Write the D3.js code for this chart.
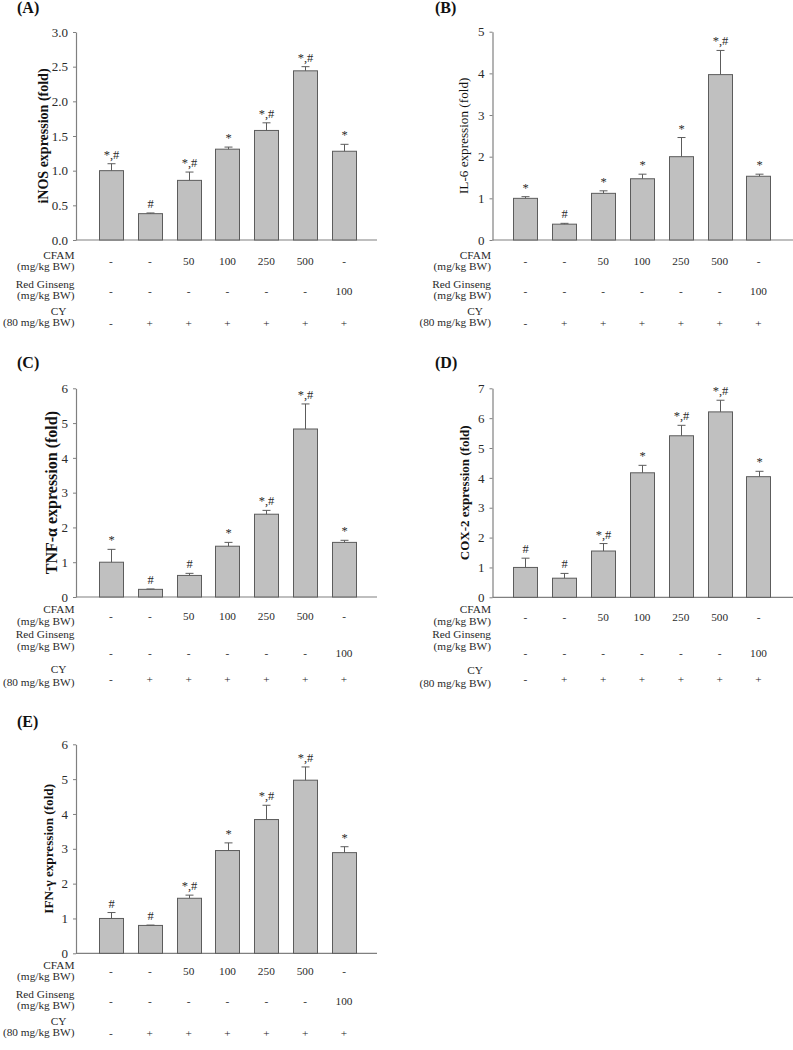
<!DOCTYPE html>
<html><head><meta charset="utf-8">
<script src="https://cdn.jsdelivr.net/npm/d3@7"></script>
<style>body{margin:0;background:#fff} svg{display:block}</style>
</head><body>
<svg id="c" width="793" height="1050"></svg>
<script>
// ---------- data ----------
const groups = ["g1","g2","g3","g4","g5","g6","g7"];
const cfamDose = ["-","-","50","100","250","500","-"];
const ginsengDose = ["-","-","-","-","-","-","100"];
const cyDose = ["-","+","+","+","+","+","+"];

const inosMean = [1.00, 0.38, 0.86, 1.31, 1.58, 2.44, 1.28];
const inosSD   = [0.10, 0.01, 0.12, 0.03, 0.11, 0.06, 0.10];
const inosSig  = ["*,#","#","*,#","*","*,#","*,#","*"];

const il6Mean = [1.00, 0.38, 1.12, 1.47, 2.00, 3.97, 1.53];
const il6SD   = [0.04, 0.02, 0.06, 0.11, 0.46, 0.58, 0.05];
const il6Sig  = ["*","#","*","*","*","*,#","*"];

const tnfMean = [1.00, 0.22, 0.62, 1.46, 2.38, 4.83, 1.57];
const tnfSD   = [0.37, 0.01, 0.06, 0.11, 0.11, 0.72, 0.06];
const tnfSig  = ["*","#","#","*","*,#","*,#","*"];

const coxMean = [1.00, 0.64, 1.55, 4.17, 5.41, 6.21, 4.04];
const coxSD   = [0.31, 0.16, 0.25, 0.25, 0.35, 0.39, 0.18];
const coxSig  = ["#","#","*,#","*","*,#","*,#","*"];

const ifnMean = [1.00, 0.80, 1.58, 2.95, 3.84, 4.97, 2.89];
const ifnSD   = [0.17, 0.01, 0.09, 0.22, 0.41, 0.38, 0.17];
const ifnSig  = ["#","#","*,#","*","*,#","*,#","*"];

const rowLabels = [["CFAM","(mg/kg BW)"],["Red Ginseng","(mg/kg BW)"],["CY","(80 mg/kg BW)"]];
const rowValues = [cfamDose, ginsengDose, cyDose];

// ---------- layout ----------
const FONT = "'Liberation Serif','Times New Roman',serif";
const TFS = 11.3;
const offAB = [[15,26,20.7],[44,55,51],[71,82,82.7]];
const offCD = [[12,24,19.4],[37,49,56],[72.5,85.5,82]];
const offE  = [[11.7,22.7,17.4],[40.7,51.7,47.7],[67.7,78.7,79.7]];

const panels = [
  {letter:"(A)", lx:17, ly:13, title:"iNOS expression (fold)", bold:true, tsize:14, tx:43,
   mean:inosMean, sd:inosSD, sig:inosSig, yMax:3, step:0.5, fmt:".1f",
   x0:76, yTop:32, yBot:240, shift:0, offs:offAB},
  {letter:"(B)", lx:435, ly:13, title:"IL-6 expression (fold)", bold:false, tsize:13.2, tx:463,
   mean:il6Mean, sd:il6SD, sig:il6Sig, yMax:5, step:1, fmt:"d",
   x0:492.5, yTop:31.7, yBot:240, shift:-2, offs:offAB},
  {letter:"(C)", lx:17, ly:368, title:"TNF-α expression (fold)", bold:true, tsize:16, tx:51,
   mean:tnfMean, sd:tnfSD, sig:tnfSig, yMax:6, step:1, fmt:"d",
   x0:76, yTop:388.3, yBot:597, shift:0, offs:offCD},
  {letter:"(D)", lx:435, ly:368, title:"COX-2 expression (fold)", bold:true, tsize:13, tx:464,
   mean:coxMean, sd:coxSD, sig:coxSig, yMax:7, step:1, fmt:"d",
   x0:492.5, yTop:388.3, yBot:597.3, shift:-2, offs:offCD},
  {letter:"(E)", lx:17, ly:727, title:"IFN-γ expression (fold)", bold:true, tsize:13.2, tx:48,
   mean:ifnMean, sd:ifnSD, sig:ifnSig, yMax:6, step:1, fmt:"d",
   x0:76, yTop:744.3, yBot:953.3, shift:0, offs:offE}
];

const svg = d3.select("#c");
const AX = "#808080", BAR = "#c0c0c0", EDGE = "#5c5c5c", TXT = "#2a2a2a";

panels.forEach(p => {
  const g = svg.append("g");
  g.append("text").attr("x", p.lx).attr("y", p.ly)
    .attr("font-family", FONT).attr("font-weight", "bold").attr("font-size", 16)
    .attr("fill", "#111").text(p.letter);

  const y = d3.scaleLinear().domain([0, p.yMax]).range([p.yBot, p.yTop]);
  const x = d3.scaleBand().domain(groups)
    .range([p.x0 + p.shift, p.x0 + p.shift + 303]).paddingInner(0.38).paddingOuter(0.59);

  g.append("line").attr("x1", p.x0).attr("x2", p.x0 + 301)
    .attr("y1", p.yBot).attr("y2", p.yBot).attr("stroke", AX).attr("stroke-width", 1.2);

  const ya = d3.axisLeft(y)
    .tickValues(d3.range(0, p.yMax + 1e-9, p.step))
    .tickSize(3).tickSizeOuter(0).tickPadding(5)
    .tickFormat(d3.format(p.fmt));
  const yg = g.append("g").attr("transform", `translate(${p.x0},0)`).call(ya);
  yg.select(".domain").attr("stroke", AX).attr("stroke-width", 1.2);
  yg.selectAll(".tick line").attr("stroke", AX);
  yg.selectAll(".tick text").attr("font-family", FONT).attr("font-size", 13).attr("fill", TXT);

  g.append("text")
    .attr("transform", `translate(${p.tx},${(p.yTop + p.yBot) / 2}) rotate(-90)`)
    .attr("text-anchor", "middle").attr("dy", "0.35em")
    .attr("font-family", FONT).attr("font-size", p.tsize)
    .attr("font-weight", p.bold ? "bold" : "normal").attr("fill", "#111")
    .text(p.title);

  const data = groups.map((k, i) => ({k, m: p.mean[i], s: p.sd[i], sig: p.sig[i]}));

  g.selectAll("rect.bar").data(data).enter().append("rect")
    .attr("x", d => Math.round(x(d.k)) + 0.5)
    .attr("width", Math.round(x.bandwidth()))
    .attr("y", d => y(d.m))
    .attr("height", d => p.yBot - y(d.m))
    .attr("fill", BAR).attr("stroke", EDGE).attr("stroke-width", 1);

  const cx = d => Math.round(x(d.k) + x.bandwidth() / 2) + 0.5;
  g.selectAll("line.err").data(data).enter().append("line")
    .attr("x1", cx).attr("x2", cx)
    .attr("y1", d => y(d.m)).attr("y2", d => y(d.m + d.s))
    .attr("stroke", EDGE).attr("stroke-width", 1);
  g.selectAll("line.cap").data(data).enter().append("line")
    .attr("x1", d => cx(d) - 4).attr("x2", d => cx(d) + 4)
    .attr("y1", d => y(d.m + d.s)).attr("y2", d => y(d.m + d.s))
    .attr("stroke", EDGE).attr("stroke-width", 1);

  g.selectAll("text.sig").data(data).enter().append("text")
    .attr("x", cx).attr("y", d => y(d.m + d.s) - 5)
    .attr("text-anchor", "middle")
    .attr("font-family", FONT).attr("font-size", 12.5).attr("fill", TXT)
    .text(d => d.sig);

  rowLabels.forEach((lab, r) => {
    const o = p.offs[r];
    const first = g.append("text").attr("y", p.yBot + o[0]).attr("dy", "0.35em")
      .attr("font-family", FONT).attr("font-size", TFS).attr("fill", TXT).text(lab[0]);
    if (r === 2) first.attr("x", p.x0 - 17.5).attr("text-anchor", "middle");
    else first.attr("x", p.x0 - 1.5).attr("text-anchor", "end");
    g.append("text").attr("x", p.x0 - 1.5).attr("y", p.yBot + o[1]).attr("dy", "0.35em")
      .attr("text-anchor", "end").attr("font-family", FONT).attr("font-size", TFS)
      .attr("fill", TXT).text(lab[1]);
    g.selectAll(null).data(rowValues[r]).enter().append("text")
      .attr("x", (v, i) => x(groups[i]) + x.bandwidth() / 2)
      .attr("y", p.yBot + o[2]).attr("dy", "0.35em")
      .attr("text-anchor", "middle").attr("font-family", FONT).attr("font-size", TFS)
      .attr("fill", TXT).text(v => v);
  });
});
</script>
</body></html>
